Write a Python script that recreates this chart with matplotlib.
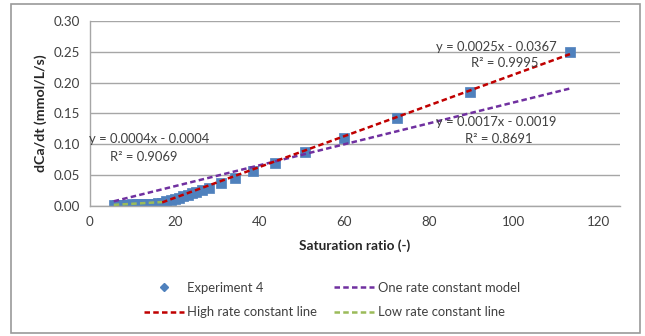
import matplotlib
matplotlib.use("Agg")
import matplotlib.pyplot as plt
import numpy as np
from matplotlib.lines import Line2D
from matplotlib.patches import Rectangle

plt.rcParams['font.family'] = ['Lato', 'DejaVu Sans']

# Experiment 4 data
sat_ratio = [5.6, 6.4, 7.3, 8.2, 9.1, 10.0, 11.0, 12.0, 13.0, 14.0, 15.0, 16.0,
             17.0, 18.0, 19.0, 20.0, 21.0, 22.0, 23.0, 24.0, 25.0, 26.5,
             28.1, 30.9, 34.2, 38.5, 43.7, 50.8, 60.0, 72.5, 89.6, 113.2]
dcadt = [0.0010, 0.0013, 0.0016, 0.0019, 0.0022, 0.0025, 0.0028, 0.0031, 0.0034, 0.0037, 0.0040, 0.0045,
         0.0055, 0.0075, 0.0095, 0.0115, 0.0135, 0.0160, 0.0185, 0.0205, 0.0225, 0.0255,
         0.030, 0.037, 0.045, 0.056, 0.070, 0.087, 0.111, 0.142, 0.185, 0.249]

# Trend lines: (slope, intercept, x_start, x_end)
line_names = ["One rate constant model", "High rate constant line", "Low rate constant line"]
slopes = [0.0017, 0.0025, 0.0004]
intercepts = [-0.0019, -0.0367, -0.0004]
x_starts = [5.6, 17.0, 5.6]
x_ends = [113.2, 113.2, 17.0]
r2_values = ["0.8691", "0.9995", "0.9069"]
line_colors = ["#7030A0", "#C00000", "#9BBB59"]

fig = plt.figure(figsize=(6.45, 3.36), dpi=100)
fig.patches.append(Rectangle((11/645, 3/336), 629/645, 329/336, transform=fig.transFigure,
                             fill=False, edgecolor="#9A9A9A", linewidth=1.2))
ax = fig.add_axes([90/645, 1 - 206/336, 530/645, 185/336])

grid_c = "#A6A6A6"
ax.set_xlim(0, 125)
ax.set_ylim(0, 0.30)
ax.set_xticks(np.arange(0, 121, 20))
ax.set_yticks(np.arange(0, 0.301, 0.05))
ax.set_yticklabels([f"{v:.2f}" for v in np.arange(0, 0.301, 0.05)])
ax.yaxis.grid(True, color=grid_c, linewidth=1.0)
ax.set_axisbelow(True)
for s in ["top", "right"]:
    ax.spines[s].set_visible(False)
for s in ["left", "bottom"]:
    ax.spines[s].set_color(grid_c)
    ax.spines[s].set_linewidth(1.0)
ax.tick_params(length=0, labelsize=9.6, colors="#404040", pad=7)

ax.scatter(sat_ratio, dcadt, marker="s", s=60, color="#4F81BD", edgecolors="#4F81BD", zorder=2, linewidths=0.5)

dash = (0, (2.2, 1.3))
for name, m, b, x0, x1, c in zip(line_names, slopes, intercepts, x_starts, x_ends, line_colors):
    xs = np.array([x0, x1])
    ax.plot(xs, m * xs + b, color=c, linestyle=dash, linewidth=1.8, zorder=3)

def eq(m, b):
    return f"y = {m:.4f}x - {abs(b):.4f}"

tkw = dict(fontsize=9.4, color="#404040", ha="center", va="center", zorder=4)
ax.text(95.8, 0.258, eq(slopes[1], intercepts[1]), **tkw)
ax.text(97.9, 0.232, f"R² = {r2_values[1]}", **tkw)
ax.text(95.8, 0.137, eq(slopes[0], intercepts[0]), **tkw)
ax.text(96.5, 0.109, f"R² = {r2_values[0]}", **tkw)
ax.text(13.9, 0.109, eq(slopes[2], intercepts[2]), **tkw)
ax.text(12.7, 0.079, f"R² = {r2_values[2]}", **tkw)

ax.set_xlabel("Saturation ratio (-)", fontsize=9.8, fontweight="bold", color="#262626", labelpad=8)
ax.set_ylabel("dCa/dt (mmol/L/s)", fontsize=10.2, fontweight="bold", color="#262626", labelpad=5)

dia = Line2D([], [], marker="D", color="#4F81BD", linestyle="none", markersize=4.5)
lh = [Line2D([], [], color=c, linestyle=dash, linewidth=1.8) for c in line_colors]
# column-major order: col1 = Experiment 4, High; col2 = One, Low
handles = [dia, lh[1], lh[0], lh[2]]
labels = ["Experiment 4", line_names[1], line_names[0], line_names[2]]
fig.legend(handles, labels, ncol=2, loc="center", bbox_to_anchor=(332/645, 1 - 300/336),
           frameon=False, fontsize=9.4, handlelength=3.0, handletextpad=0.3,
           columnspacing=1.3, labelspacing=0.95, labelcolor="#404040")

fig.savefig("out.png", dpi=100)
